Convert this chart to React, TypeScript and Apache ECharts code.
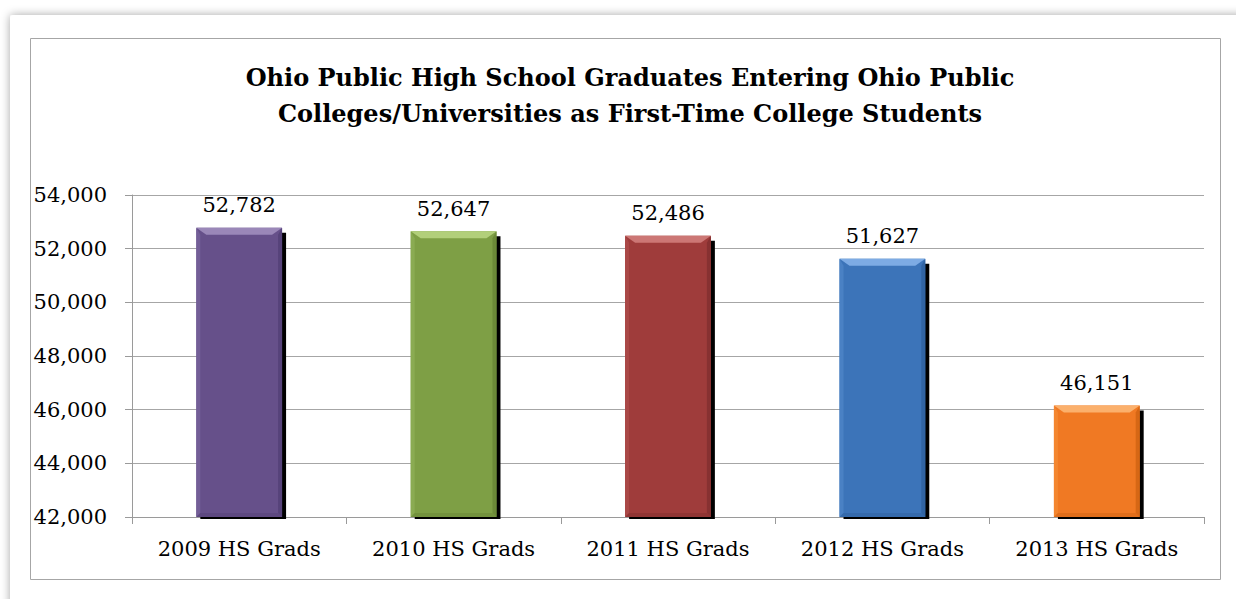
import React, { useEffect, useRef } from "react";
import * as echarts from "echarts";

const categories = ["2009 HS Grads", "2010 HS Grads", "2011 HS Grads", "2012 HS Grads", "2013 HS Grads"];
const values = [52782, 52647, 52486, 51627, 46151];
const baseColors = ["#66508A", "#7E9F45", "#9F3C3B", "#3C74B9", "#F07923"];
const lightColors = ["#9A87B8", "#B2CF7A", "#CC7775", "#7DABE4", "#FBB06C"];
const sideColors = ["#735E97", "#8AAB52", "#AA4847", "#4A81C4", "#F4862F"];
const darkColors = ["#56437A", "#6C8A38", "#873131", "#3164A3", "#D66715"];
const yMin = 42000;
const yMax = 54000;
const yStep = 2000;

const FONT = "'DejaVu Serif', serif";

export default function App() {
  const ref = useRef<HTMLDivElement>(null);
  useEffect(() => {
    document.body.style.margin = "0";
    const chart = echarts.init(ref.current!, null, { renderer: "svg" });
    chart.setOption({
      animation: false,
      backgroundColor: "#ffffff",
      graphic: [
        {
          type: "rect",
          z: -10,
          shape: { x: 10, y: 15, width: 1260, height: 620, r: 3 },
          style: { fill: "#ffffff", shadowBlur: 10, shadowColor: "rgba(0,0,0,0.35)", shadowOffsetX: 0, shadowOffsetY: 0 },
        },
        {
          type: "rect",
          z: -9,
          shape: { x: 30.5, y: 38.5, width: 1190, height: 541 },
          style: { fill: "#ffffff", stroke: "#A6A6A6", lineWidth: 1 },
        },
      ],
      title: {
        text: "Ohio Public High School Graduates Entering Ohio Public\nColleges/Universities as First-Time College Students",
        left: 625,
        top: 54,
        textAlign: "center",
        textStyle: {
          fontFamily: FONT,
          fontWeight: "bold",
          fontSize: 24,
          lineHeight: 36,
          color: "#000",
        },
      },
      grid: { left: 132, right: 32, top: 195, bottom: 82, containLabel: false },
      xAxis: {
        type: "category",
        data: categories,
        axisLine: { show: true, lineStyle: { color: "#9A9A9A", width: 1 } },
        axisTick: { show: true, length: 7, lineStyle: { color: "#9A9A9A" } },
        axisLabel: { fontFamily: FONT, fontSize: 21, color: "#000", margin: 21 },
      },
      yAxis: {
        type: "value",
        min: yMin,
        max: yMax,
        interval: yStep,
        axisLine: { show: true, lineStyle: { color: "#9A9A9A", width: 1 } },
        axisTick: { show: true, length: 7, lineStyle: { color: "#9A9A9A" } },
        splitLine: { show: true, lineStyle: { color: "#A6A6A6", width: 1 } },
        axisLabel: {
          fontFamily: FONT,
          fontSize: 21,
          color: "#000",
          margin: 25,
          formatter: (v: number) => v.toLocaleString("en-US"),
        },
      },
      series: [
        {
          type: "custom",
          data: values.map((v, i) => [i, v]),
          clip: false,
          renderItem: (params: any, api: any) => {
            const idx = params.dataIndex;
            const val = api.value(1);
            const topPt = api.coord([idx, val]);
            const basePt = api.coord([idx, yMin]);
            const bw = api.size([1, 0])[0] * 0.4;
            const x = topPt[0] - bw / 2;
            const y = topPt[1];
            const h = basePt[1] - y;
            const b = 7;
            const s = 4;
            return {
              type: "group",
              children: [
                { type: "rect", shape: { x: x + 4, y: y + 5, width: bw, height: h - 3 }, style: { fill: "#000" } },
                { type: "rect", shape: { x, y, width: bw, height: h }, style: { fill: baseColors[idx] } },
                {
                  type: "polygon",
                  shape: { points: [[x, y], [x + s, y + b], [x + s, y + h - s], [x, y + h]] },
                  style: { fill: sideColors[idx] },
                },
                {
                  type: "polygon",
                  shape: { points: [[x + bw, y], [x + bw - s, y + b], [x + bw - s, y + h - s], [x + bw, y + h]] },
                  style: { fill: darkColors[idx] },
                },
                {
                  type: "polygon",
                  shape: { points: [[x, y + h], [x + s, y + h - s], [x + bw - s, y + h - s], [x + bw, y + h]] },
                  style: { fill: darkColors[idx], opacity: 0.6 },
                },
                {
                  type: "polygon",
                  shape: { points: [[x, y], [x + bw, y], [x + bw - s * 2.5, y + b], [x + s * 2.5, y + b]] },
                  style: { fill: lightColors[idx] },
                },
                {
                  type: "text",
                  x: topPt[0],
                  y: y - 12,
                  style: {
                    text: val.toLocaleString("en-US"),
                    fontFamily: FONT,
                    fontSize: 21,
                    fill: "#000",
                    align: "center",
                    verticalAlign: "bottom",
                  },
                },
              ],
            };
          },
        },
      ],
    });
    return () => chart.dispose();
  }, []);
  return <div ref={ref} style={{ width: 1236, height: 599 }} />;
}
